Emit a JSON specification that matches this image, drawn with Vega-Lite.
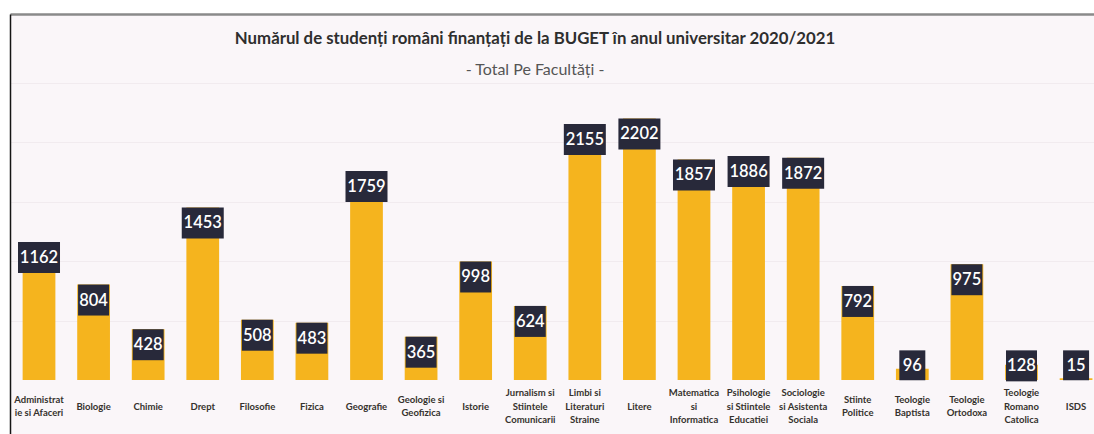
{
  "$schema": "https://vega.github.io/schema/vega-lite/v6.json",
  "autosize": {"type": "none"},
  "padding": {"left": 10, "top": 14, "right": 0, "bottom": 0},
  "width": 1084,
  "height": 420,
  "background": "#ffffff",
  "config": {
    "view": {"fill": "#FAF6F9", "stroke": null},
    "font": "Lato"
  },
  "title": {
    "text": "Numărul de studenți români finanțați de la BUGET în anul universitar 2020/2021",
    "subtitle": "- Total Pe Facultăți -",
    "anchor": "middle",
    "frame": "group",
    "dx": -17,
    "offset": -64,
    "font": "Lato",
    "fontSize": 16.8,
    "fontWeight": "bold",
    "color": "#2e2e2e",
    "subtitleFont": "Lato",
    "subtitleFontSize": 16,
    "subtitleFontWeight": "normal",
    "subtitleColor": "#555555",
    "subtitlePadding": 14
  },
  "data": {
    "values": [
      {"facultate": "Administrat|ie si Afaceri", "v": 1162},
      {"facultate": "Biologie", "v": 804},
      {"facultate": "Chimie", "v": 428},
      {"facultate": "Drept", "v": 1453},
      {"facultate": "Filosofie", "v": 508},
      {"facultate": "Fizica", "v": 483},
      {"facultate": "Geografie", "v": 1759},
      {"facultate": "Geologie si|Geofizica", "v": 365},
      {"facultate": "Istorie", "v": 998},
      {"facultate": "Jurnalism si|Stiintele|Comunicarii", "v": 624},
      {"facultate": "Limbi si|Literaturi|Straine", "v": 2155},
      {"facultate": "Litere", "v": 2202},
      {"facultate": "Matematica|si|Informatica", "v": 1857},
      {"facultate": "Psihologie|si Stiintele|Educatiei", "v": 1886},
      {"facultate": "Sociologie|si Asistenta|Sociala", "v": 1872},
      {"facultate": "Stiinte|Politice", "v": 792},
      {"facultate": "Teologie|Baptista", "v": 96},
      {"facultate": "Teologie|Ortodoxa", "v": 975},
      {"facultate": "Teologie|Romano|Catolica", "v": 128},
      {"facultate": "ISDS", "v": 15}
    ]
  },
  "resolve": {"axis": {"x": "independent"}},
  "layer": [
    {
      "mark": {"type": "bar", "color": "#F5B41E"},
      "encoding": {
        "x": {
          "field": "facultate", "type": "nominal", "sort": null,
          "scale": {"paddingInner": 0.4, "paddingOuter": 0.13, "align": 0.89},
          "axis": {
            "orient": "bottom", "title": null, "domain": false, "ticks": false, "grid": false,
            "labelAngle": 0, "labelExpr": "split(datum.label, '|')",
            "labelFont": "Lato", "labelFontWeight": "bold", "labelFontSize": 9.5,
            "labelColor": "#35322d", "labelLineHeight": 13.5, "labelBaseline": "middle",
            "labelPadding": {"expr": "-(length(split(datum.value, '|')) - 1) * 6.75"},
            "offset": -28, "labelOverlap": false, "labelLimit": 0
          }
        },
        "y": {
          "field": "v", "type": "quantitative",
          "scale": {"domain": [-454, 3081], "nice": false, "zero": false},
          "axis": {
            "orient": "left", "title": null, "labels": false, "ticks": false,
            "domain": true, "domainColor": "#151515", "domainWidth": 1.5,
            "grid": true, "gridColor": "#F1EBEF", "gridWidth": 1,
            "values": [500, 1000, 1500, 2000, 2500]
          }
        },
        "y2": {"datum": 0}
      }
    },
    {
      "transform": [{"filter": "datum.v >= 1000"}],
      "mark": {"type": "point", "shape": "M-1,0H1V1.476H-1Z", "filled": true, "fill": "#28293A", "opacity": 1, "strokeWidth": 0, "size": 1764},
      "encoding": {
        "x": {
          "field": "facultate", "type": "nominal", "sort": null,
          "axis": {"orient": "top", "title": null, "labels": false, "ticks": false, "grid": false, "domain": true, "domainColor": "#8a8a8a", "domainWidth": 2.5}
        },
        "y": {"field": "v", "type": "quantitative"}
      }
    },
    {
      "transform": [{"filter": "datum.v >= 250 && datum.v < 1000"}],
      "mark": {"type": "point", "shape": "M-1,0H1V2H-1Z", "filled": true, "fill": "#28293A", "opacity": 1, "strokeWidth": 0, "size": 961},
      "encoding": {
        "x": {"field": "facultate", "type": "nominal", "sort": null, "axis": null},
        "y": {"field": "v", "type": "quantitative"}
      }
    },
    {
      "transform": [{"filter": "datum.v >= 100 && datum.v < 250"}],
      "mark": {"type": "point", "shape": "M-1,0H1V2H-1Z", "filled": true, "fill": "#28293A", "opacity": 1, "strokeWidth": 0, "size": 961},
      "encoding": {
        "x": {"field": "facultate", "type": "nominal", "sort": null, "axis": null},
        "y": {"datum": 250, "type": "quantitative"}
      }
    },
    {
      "transform": [{"filter": "datum.v < 100"}],
      "mark": {"type": "point", "shape": "M-1,0H1V2.3H-1Z", "filled": true, "fill": "#28293A", "opacity": 1, "strokeWidth": 0, "size": 676},
      "encoding": {
        "x": {"field": "facultate", "type": "nominal", "sort": null, "axis": null},
        "y": {"datum": 250, "type": "quantitative"}
      }
    },
    {
      "transform": [{"filter": "datum.v >= 250"}],
      "mark": {"type": "text", "font": "Lato", "fontSize": 16.5, "fontWeight": 600, "color": "#ffffff", "baseline": "middle", "dy": 16},
      "encoding": {
        "x": {"field": "facultate", "type": "nominal", "sort": null, "axis": null},
        "y": {"field": "v", "type": "quantitative"},
        "text": {"field": "v", "type": "quantitative"}
      }
    },
    {
      "transform": [{"filter": "datum.v < 250"}],
      "mark": {"type": "text", "font": "Lato", "fontSize": 16.5, "fontWeight": 600, "color": "#ffffff", "baseline": "middle", "dy": 16},
      "encoding": {
        "x": {"field": "facultate", "type": "nominal", "sort": null, "axis": null},
        "y": {"datum": 250, "type": "quantitative"},
        "text": {"field": "v", "type": "quantitative"}
      }
    }
  ]
}
